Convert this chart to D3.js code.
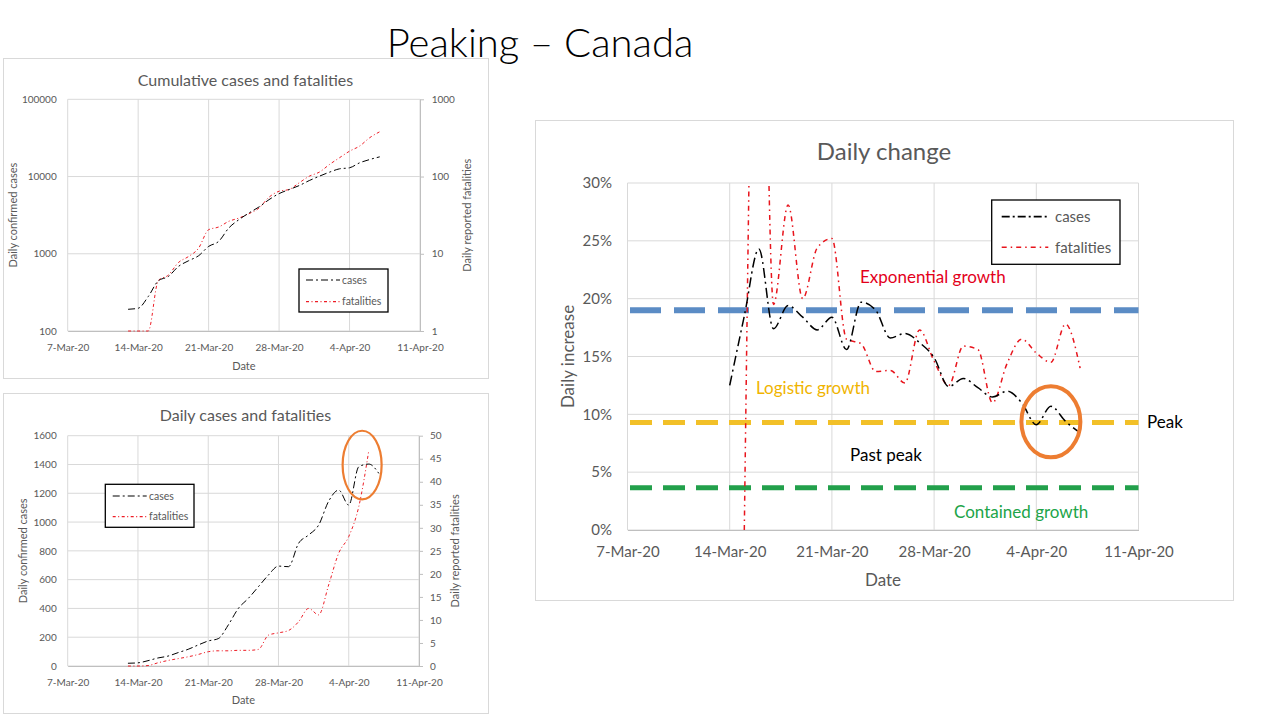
<!DOCTYPE html>
<html>
<head>
<meta charset="utf-8">
<title>Peaking – Canada</title>
<script src="https://cdn.jsdelivr.net/npm/d3@7/dist/d3.min.js"></script>
<style>
  body { margin: 0; background: #fff; }
  svg { display: block; }
</style>
</head>
<body>
<script>
// ---------- data ----------
const xTickLabels = ["7-Mar-20", "14-Mar-20", "21-Mar-20", "28-Mar-20", "4-Apr-20", "11-Apr-20"];

const dates = [
  "13-Mar-20", "14-Mar-20", "15-Mar-20", "16-Mar-20", "17-Mar-20", "18-Mar-20", "19-Mar-20",
  "20-Mar-20", "21-Mar-20", "22-Mar-20", "23-Mar-20", "24-Mar-20", "25-Mar-20", "26-Mar-20",
  "27-Mar-20", "28-Mar-20", "29-Mar-20", "30-Mar-20", "31-Mar-20", "1-Apr-20", "2-Apr-20",
  "3-Apr-20", "4-Apr-20", "5-Apr-20", "6-Apr-20", "7-Apr-20"
];

// cumulative (log scales)
const cumCases = [191, 197, 279, 446, 508, 685, 811, 942, 1245, 1446, 2154, 2760, 3370,
  4034, 5020, 6010, 6780, 7640, 8870, 10100, 11380, 12580, 12980, 15050, 16600, 17990];
const cumFatalities = [1, 1, 1, 4.5, 5.3, 7.7, 9.2, 11.8, 20.5, 22.2, 26.3, 29, 33,
  39, 54, 64.5, 68, 83, 101, 114, 143, 175, 213, 248, 318, 380];
const cumCaseTicks = [100, 1000, 10000, 100000];
const cumFatalityTicks = [1, 10, 100, 1000];

// daily numbers (fatalities end one day earlier)
const dailyCases = [19, 22, 37, 56, 69, 93, 116, 146, 174, 190, 285, 400, 470,
  551, 632, 694, 690, 852, 910, 979, 1145, 1222, 1118, 1384, 1403, 1338];
const dailyFatalities = [0, 0, 0.1, 0.7, 1.2, 1.6, 2.0, 2.5, 3.1, 3.3, 3.3, 3.4, 3.4,
  3.6, 6.7, 7.2, 7.7, 9.6, 12.5, 11.1, 17.6, 24.5, 28.1, 34.6, 46.8];
const dailyCaseTicks = [0, 200, 400, 600, 800, 1000, 1200, 1400, 1600];
const dailyFatalityTicks = [0, 5, 10, 15, 20, 25, 30, 35, 40, 45, 50];

// daily change in % (cases from 14-Mar, fatalities from 15-Mar)
const changeCases = [12.5, 18.5, 24.3, 17.4, 19.4, 18.4, 17.3, 18.4, 15.6, 19.7, 19.0, 16.6,
  17.0, 16.2, 14.9, 12.4, 13.1, 12.3, 11.5, 12.0, 11.0, 9.1, 10.7, 9.4, 8.4];
const changeFatalities = [0, 65, 19.5, 28.1, 20.0, 24.4, 25.2, 16.5, 16.1, 13.7, 13.8, 12.7,
  17.3, 14.6, 12.5, 15.9, 15.6, 11.0, 14.4, 16.5, 15.3, 14.5, 17.8, 14.0];
const changeTicks = [0, 5, 10, 15, 20, 25, 30];

// growth regime thresholds (% per day): exponential, peak, contained
const thresholdValues = [19.0, 9.3, 3.65];

// ---------- setup ----------
const FONT = "Lato, 'Open Sans', sans-serif";
const textGrey = "#595959";
const gridColor = "#d9d9d9";
const parseDate = d3.timeParse("%d-%b-%y");
const parseDateHour = d3.timeParse("%d-%b-%y %H");
const fmtDate = d3.timeFormat("%-d-%b-%y");
const xTicks = xTickLabels.map(parseDate);
const xDomain = [xTicks[0], xTicks[xTicks.length - 1]];

const caseStyle = { color: "#000", dash: "7,3,2,3", width: 1 };
const fatalStyle = { color: "#ee1c25", dash: "3,2.5,1,2.5", width: 1 };

function series(ds, values) {
  return values.map((v, i) => ({ date: parseDate(ds[i]), v }));
}

const svg = d3.select("body").append("svg")
  .attr("width", 1280).attr("height", 720)
  .attr("font-family", FONT);

svg.append("text")
  .attr("x", 540).attr("y", 57)
  .attr("text-anchor", "middle")
  .attr("font-size", 40).attr("font-weight", 300).attr("fill", "#000")
  .text("Peaking – Canada");

function legend(g, box, rows, fontSize, sampleX, textX) {
  g.append("rect")
    .attr("x", box[0]).attr("y", box[1])
    .attr("width", box[2] - box[0]).attr("height", box[3] - box[1])
    .attr("fill", "#fff").attr("stroke", "#000").attr("stroke-width", 1.3);
  rows.forEach(r => {
    g.append("line")
      .attr("x1", sampleX[0]).attr("x2", sampleX[1]).attr("y1", r.y).attr("y2", r.y)
      .attr("stroke", r.style.color).attr("stroke-width", r.style.width * 1.2)
      .attr("stroke-dasharray", r.style.dash);
    g.append("text")
      .attr("x", textX).attr("y", r.y).attr("dy", "0.35em")
      .attr("font-size", fontSize).attr("fill", textGrey)
      .text(r.label);
  });
}

// ---------- small charts ----------
function smallChart(c) {
  const g = svg.append("g");
  g.append("rect")
    .attr("x", c.box[0] + 0.5).attr("y", c.box[1] + 0.5)
    .attr("width", c.box[2] - c.box[0]).attr("height", c.box[3] - c.box[1])
    .attr("fill", "#fff").attr("stroke", gridColor);

  const [pl, pt, pr, pb] = c.plot;
  const x = d3.scaleTime().domain(xDomain).range([pl, pr]);
  const yL = c.yLeft.range([pb, pt]);
  const yR = c.yRight.range([pb, pt]);

  g.append("g").selectAll("line").data(c.leftTicks).join("line")
    .attr("x1", pl).attr("x2", pr)
    .attr("y1", d => yL(d)).attr("y2", d => yL(d))
    .attr("stroke", gridColor);
  g.append("g").selectAll("line").data(xTicks).join("line")
    .attr("x1", d => x(d)).attr("x2", d => x(d))
    .attr("y1", pt).attr("y2", pb)
    .attr("stroke", gridColor);

  g.append("g").attr("transform", `translate(${pl},0)`)
    .call(d3.axisLeft(yL).tickValues(c.leftTicks).tickFormat(d3.format("d")).tickSize(0).tickPadding(11))
    .attr("font-family", FONT).attr("font-size", 10)
    .call(a => a.select(".domain").remove())
    .call(a => a.selectAll("text").attr("fill", textGrey));

  g.append("g").attr("transform", `translate(${pr},0)`)
    .call(d3.axisRight(yR).tickValues(c.rightTicks).tickFormat(d3.format("d"))
      .tickSize(4).tickSizeOuter(0).tickPadding(c.rightPad))
    .attr("font-family", FONT).attr("font-size", 10)
    .call(a => a.selectAll("line, path").attr("stroke", "#bfbfbf"))
    .call(a => a.selectAll("text").attr("fill", textGrey));

  g.append("g").attr("transform", `translate(0,${pb})`)
    .call(d3.axisBottom(x).tickValues(xTicks).tickFormat(fmtDate).tickSize(0).tickPadding(c.xPad))
    .attr("font-family", FONT).attr("font-size", 10)
    .call(a => a.select(".domain").attr("stroke", "#bfbfbf"))
    .call(a => a.selectAll("text").attr("fill", textGrey));

  const lineL = d3.line().x(d => x(d.date)).y(d => yL(d.v)).curve(d3.curveMonotoneX);
  const lineR = d3.line().x(d => x(d.date)).y(d => yR(d.v)).curve(d3.curveMonotoneX);

  g.append("path").datum(c.fatalities).attr("d", lineR)
    .attr("fill", "none").attr("stroke", fatalStyle.color)
    .attr("stroke-width", fatalStyle.width).attr("stroke-dasharray", fatalStyle.dash);
  g.append("path").datum(c.cases).attr("d", lineL)
    .attr("fill", "none").attr("stroke", caseStyle.color)
    .attr("stroke-width", caseStyle.width).attr("stroke-dasharray", caseStyle.dash);

  // titles
  g.append("text").attr("x", (c.box[0] + c.box[2]) / 2).attr("y", c.titleY)
    .attr("text-anchor", "middle").attr("font-size", 16).attr("fill", textGrey)
    .text(c.title);
  g.append("text").attr("x", (pl + pr) / 2).attr("y", c.dateY)
    .attr("text-anchor", "middle").attr("font-size", 11).attr("fill", textGrey)
    .text("Date");
  g.append("text")
    .attr("transform", `translate(${c.leftTitleX},${(pt + pb) / 2}) rotate(-90)`)
    .attr("text-anchor", "middle").attr("dy", "0.35em")
    .attr("font-size", 11).attr("fill", textGrey)
    .text("Daily confirmed cases");
  g.append("text")
    .attr("transform", `translate(${c.rightTitleX},${(pt + pb) / 2}) rotate(-90)`)
    .attr("text-anchor", "middle").attr("dy", "0.35em")
    .attr("font-size", 11).attr("fill", textGrey)
    .text("Daily reported fatalities");

  legend(g, c.legendBox, [
    { label: "cases", style: caseStyle, y: c.legendRows[0] },
    { label: "fatalities", style: fatalStyle, y: c.legendRows[1] }
  ], 10.5, c.legendSample, c.legendText);

  if (c.ring) {
    g.append("ellipse")
      .attr("cx", x(parseDateHour(c.ring.date))).attr("cy", yL(c.ring.value))
      .attr("rx", 19.5).attr("ry", 34.3)
      .attr("fill", "none").attr("stroke", "#ed7d31").attr("stroke-width", 2.2);
  }
}

smallChart({
  box: [3, 58, 488, 378],
  plot: [67.7, 99.3, 420, 331],
  yLeft: d3.scaleLog().domain([100, 100000]),
  yRight: d3.scaleLog().domain([1, 1000]),
  leftTicks: cumCaseTicks, rightTicks: cumFatalityTicks,
  cases: series(dates, cumCases), fatalities: series(dates, cumFatalities),
  title: "Cumulative cases and fatalities",
  titleY: 85.5, dateY: 370, xPad: 12.4, rightPad: 7.7,
  leftTitleX: 13.5, rightTitleX: 466.7,
  legendBox: [299, 269, 388, 312], legendRows: [280, 301.7],
  legendSample: [306, 340], legendText: 342
});

smallChart({
  box: [3, 393, 488, 713],
  plot: [67.7, 435.7, 419, 666],
  yLeft: d3.scaleLinear().domain([0, 1600]),
  yRight: d3.scaleLinear().domain([0, 50]),
  leftTicks: dailyCaseTicks, rightTicks: dailyFatalityTicks,
  cases: series(dates, dailyCases), fatalities: series(dates, dailyFatalities),
  title: "Daily cases and fatalities",
  titleY: 420.7, dateY: 704, xPad: 12.9, rightPad: 7,
  leftTitleX: 23.3, rightTitleX: 455,
  legendBox: [105.3, 484.3, 194, 527.3], legendRows: [496, 516.7],
  legendSample: [112.7, 146.7], legendText: 149,
  ring: { date: "5-Apr-20 08", value: 1396 }
});

// ---------- daily change chart ----------
(function changeChart() {
  const g = svg.append("g");
  g.append("rect")
    .attr("x", 535.5).attr("y", 120.5).attr("width", 698).attr("height", 480)
    .attr("fill", "#fff").attr("stroke", gridColor);

  const pl = 627.5, pt = 183, pr = 1138.5, pb = 530;
  const x = d3.scaleTime().domain(xDomain).range([pl, pr]);
  const y = d3.scaleLinear().domain([0, 30]).range([pb, pt]);

  g.append("g").selectAll("line").data(changeTicks).join("line")
    .attr("x1", pl).attr("x2", pr)
    .attr("y1", d => y(d)).attr("y2", d => y(d))
    .attr("stroke", gridColor);
  g.append("g").selectAll("line").data(xTicks).join("line")
    .attr("x1", d => x(d)).attr("x2", d => x(d))
    .attr("y1", pt).attr("y2", pb)
    .attr("stroke", gridColor);

  g.append("g").attr("transform", `translate(${pl},0)`)
    .call(d3.axisLeft(y).tickValues(changeTicks).tickFormat(d => d + "%").tickSize(0).tickPadding(15.5))
    .attr("font-family", FONT).attr("font-size", 15)
    .call(a => a.select(".domain").remove())
    .call(a => a.selectAll("text").attr("fill", textGrey));
  g.append("g").attr("transform", `translate(0,${pb})`)
    .call(d3.axisBottom(x).tickValues(xTicks).tickFormat(fmtDate).tickSize(0).tickPadding(16.3))
    .attr("font-family", FONT).attr("font-size", 15)
    .call(a => a.select(".domain").attr("stroke", "#bfbfbf"))
    .call(a => a.selectAll("text").attr("fill", textGrey));

  // threshold bands
  const thresholdStyles = [
    { color: "#5b8cc5", width: 6, dash: "31,13" },
    { color: "#f2c028", width: 5, dash: "22,11" },
    { color: "#22a04b", width: 5, dash: "22,11" }
  ];
  g.append("g").selectAll("line").data(thresholdValues).join("line")
    .attr("x1", pl).attr("x2", pr)
    .attr("y1", d => y(d)).attr("y2", d => y(d))
    .attr("stroke", (d, i) => thresholdStyles[i].color)
    .attr("stroke-width", (d, i) => thresholdStyles[i].width)
    .attr("stroke-dasharray", (d, i) => thresholdStyles[i].dash)
    .attr("stroke-dashoffset", -2.5);

  svg.append("clipPath").attr("id", "changeClip")
    .append("rect").attr("x", pl).attr("y", pt).attr("width", pr - pl).attr("height", pb - pt);

  const line = d3.line().x(d => x(d.date)).y(d => y(d.v)).curve(d3.curveMonotoneX);
  const lines = g.append("g").attr("clip-path", "url(#changeClip)");
  lines.append("path").datum(series(dates.slice(2), changeFatalities)).attr("d", line)
    .attr("fill", "none").attr("stroke", "#e8141c").attr("stroke-width", 1.5)
    .attr("stroke-dasharray", "5,4,1.5,4");
  lines.append("path").datum(series(dates.slice(1), changeCases)).attr("d", line)
    .attr("fill", "none").attr("stroke", "#000").attr("stroke-width", 1.5)
    .attr("stroke-dasharray", "10,4,2,4");

  // annotations
  const notes = [
    { text: "Exponential growth", x: 860, y: 283, color: "#e3001b" },
    { text: "Logistic growth", x: 756, y: 394, color: "#f0b400" },
    { text: "Past peak", x: 850, y: 460.7, color: "#000" },
    { text: "Contained growth", x: 954, y: 517.7, color: "#20a448" },
    { text: "Peak", x: 1147, y: 428.3, color: "#000" }
  ];
  g.append("g").selectAll("text").data(notes).join("text")
    .attr("x", d => d.x).attr("y", d => d.y)
    .attr("font-size", 17).attr("fill", d => d.color)
    .text(d => d.text);

  g.append("ellipse")
    .attr("cx", x(parseDate("5-Apr-20"))).attr("cy", y(9.35))
    .attr("rx", 29.5).attr("ry", 35.5)
    .attr("fill", "none").attr("stroke", "#ed7d31").attr("stroke-width", 4);

  // titles
  g.append("text").attr("x", 884).attr("y", 160)
    .attr("text-anchor", "middle").attr("font-size", 24).attr("fill", textGrey)
    .text("Daily change");
  g.append("text").attr("x", (pl + pr) / 2).attr("y", 586)
    .attr("text-anchor", "middle").attr("font-size", 17).attr("fill", textGrey)
    .text("Date");
  g.append("text")
    .attr("transform", `translate(568.5,${(pt + pb) / 2}) rotate(-90)`)
    .attr("text-anchor", "middle").attr("dy", "0.35em")
    .attr("font-size", 17).attr("fill", textGrey)
    .text("Daily increase");

  legend(g, [991.7, 200, 1120, 264.3], [
    { label: "cases", style: { color: "#000", dash: "8,3,2,3", width: 1.4 }, y: 216.7 },
    { label: "fatalities", style: { color: "#e8141c", dash: "5,4,1.5,4", width: 1.2 }, y: 247.3 }
  ], 15, [1001.7, 1048.3], 1055);
})();
</script>
</body>
</html>
